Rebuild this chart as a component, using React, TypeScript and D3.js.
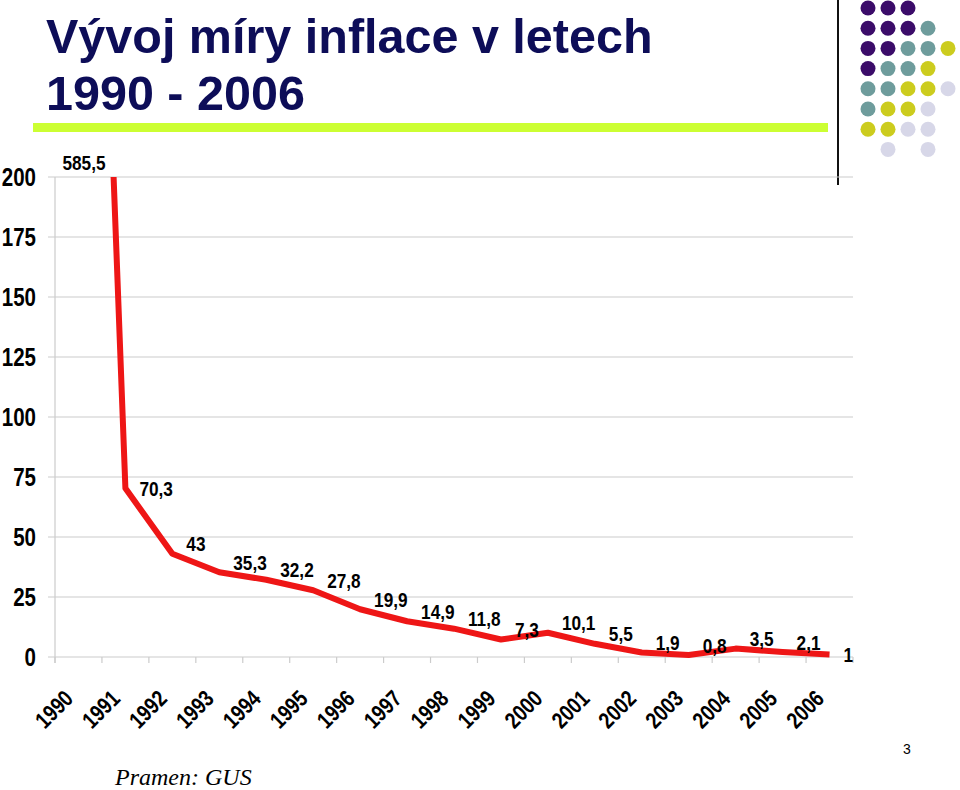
import React from "react";
import * as d3 from "d3";

const years = ["1990","1991","1992","1993","1994","1995","1996","1997","1998","1999","2000","2001","2002","2003","2004","2005","2006"];
const inflation = [585.5, 70.3, 43, 35.3, 32.2, 27.8, 19.9, 14.9, 11.8, 7.3, 10.1, 5.5, 1.9, 0.8, 3.5, 2.1, 1];
const valueLabels = ["585,5","70,3","43","35,3","32,2","27,8","19,9","14,9","11,8","7,3","10,1","5,5","1,9","0,8","3,5","2,1","1"];
const yTicks = [0, 25, 50, 75, 100, 125, 150, 175, 200];
const titleLines = ["Vývoj míry inflace v letech", "1990 - 2006"];
const sourceText = "Pramen: GUS";
const pageNumber = "3";

// decorative dot grid (rows of colour keys)
const dotRows = [
  ["p","p","p","",""],
  ["p","p","p","t",""],
  ["p","p","t","t","y"],
  ["p","t","t","y",""],
  ["t","t","y","y","l"],
  ["t","y","y","l",""],
  ["y","y","l","l",""],
  ["","l","","l",""],
];
const dotColors: Record<string,string> = { p: "#3b0c69", t: "#6e9c9c", y: "#cccc1e", l: "#d7d7e8" };

const W = 960, H = 790;
const left = 55, right = 853, top = 177, bottom = 657;
const sans = "'Liberation Sans',Arial,sans-serif";
const NARROW = 0.82;

function NText(props: { x: number; y: number; size: number; anchor?: string; rotate?: number; dy?: string; children: React.ReactNode }) {
  const { x, y, size, anchor = "start", rotate = 0, dy = "0", children } = props;
  return (
    <text
      transform={`translate(${x},${y}) rotate(${rotate}) scale(${NARROW},1)`}
      textAnchor={anchor}
      dy={dy}
      fontFamily={sans}
      fontWeight="bold"
      fontSize={size}
      fill="#000"
    >
      {children}
    </text>
  );
}

export default function App() {
  const x = d3.scaleBand<string>().domain(years).range([left, right]).paddingInner(0).paddingOuter(0);
  const y = d3.scaleLinear().domain([0, 200]).range([bottom, top]);
  const cx = (i: number) => (x(years[i]) as number) + x.bandwidth() / 2;
  const line = d3.line<number>().x((_, i) => cx(i)).y((d) => y(d));
  const path = line(inflation) || "";
  const boundaries = d3.range(years.length + 1).map((i) => left + i * x.bandwidth());
  const rightPlaced = new Set([1, years.length - 1]);

  return (
    <svg width={W} height={H} style={{ position: "absolute", left: 0, top: 0 }}>
      <rect width={W} height={H} fill="#ffffff" />
      <defs>
        <clipPath id="plotClip">
          <rect x={left} y={top} width={right - left} height={bottom - top + 10} />
        </clipPath>
      </defs>
      {/* title */}
      <text x={46} y={53} fontFamily={sans} fontWeight="bold" fontSize={48.5} fill="#0d0d58">{titleLines[0]}</text>
      <text x={46} y={110} fontFamily={sans} fontWeight="bold" fontSize={48.5} fill="#0d0d58">{titleLines[1]}</text>
      <rect x={33} y={123} width={795} height={9} fill="#ccff33" />
      <line x1={838} y1={0} x2={838} y2={185} stroke="#111" strokeWidth={2} />
      {dotRows.map((row, r) =>
        row.map((c, k) =>
          c ? <circle key={`${r}-${k}`} cx={868 + k * 20} cy={8 + r * 20.2} r={7.5} fill={dotColors[c]} /> : null
        )
      )}
      {/* gridlines */}
      {yTicks.map((t) => (
        <g key={t}>
          <line x1={left - 7} x2={right} y1={y(t)} y2={y(t)} stroke="#cccccc" strokeWidth={1.2} />
          <NText x={36} y={y(t)} dy="0.36em" anchor="end" size={25}>{t}</NText>
        </g>
      ))}
      <line x1={left} x2={left} y1={top} y2={bottom + 6} stroke="#cccccc" strokeWidth={1.2} />
      {boundaries.map((b, i) => (
        <line key={i} x1={b} x2={b} y1={bottom} y2={bottom + 6} stroke="#cccccc" strokeWidth={1.2} />
      ))}
      {/* x labels */}
      {years.map((yr, i) => (
        <NText key={yr} x={cx(i) - 4} y={700} rotate={-45} anchor="end" size={23}>{yr}</NText>
      ))}
      {/* line */}
      <path d={path} fill="none" stroke="#ee1616" strokeWidth={6} strokeLinejoin="round" clipPath="url(#plotClip)" />
      {/* value labels */}
      {inflation.map((v, i) => {
        if (v > 200) {
          return <NText key={i} x={cx(i) - 16} y={top - 15} dy="0.36em" size={21}>{valueLabels[i]}</NText>;
        }
        const dy = rightPlaced.has(i) ? 0 : -10;
        return <NText key={i} x={cx(i) + 14} y={y(v) + dy} dy="0.36em" size={21}>{valueLabels[i]}</NText>;
      })}
      <text x={115} y={785} fontFamily="'Liberation Serif','Times New Roman',serif" fontStyle="italic" fontSize={24} fill="#000">{sourceText}</text>
      <text x={907} y={754} textAnchor="middle" fontFamily={sans} fontSize={14} fill="#000">{pageNumber}</text>
    </svg>
  );
}
